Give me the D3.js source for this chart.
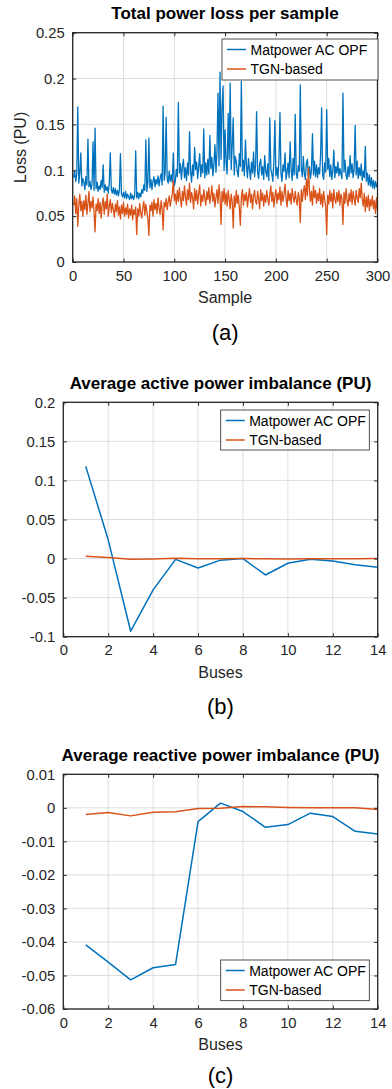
<!DOCTYPE html>
<html><head><meta charset="utf-8">
<script src="https://cdn.jsdelivr.net/npm/d3@7"></script>
<style>
html,body{margin:0;padding:0;background:#fff;}
svg{display:block;font-family:"Liberation Sans",Arial,Helvetica,sans-serif;}
</style></head>
<body>
<svg id="chart" width="392" height="1089"></svg>
<script>
// ---------- DATA ----------
const seriesNames = ["Matpower AC OPF", "TGN-based"];

// Panel (a): total power loss per sample (samples 1..300)
const lossMatpower = [
0.092,0.099,0.088,0.096,0.169,0.086,0.097,0.119,0.083,0.091,
0.087,0.079,0.093,0.084,0.134,0.082,0.088,0.079,0.085,0.131,
0.078,0.146,0.080,0.087,0.077,0.083,0.079,0.089,0.081,0.106,
0.076,0.084,0.078,0.082,0.075,0.086,0.119,0.079,0.075,0.081,
0.074,0.080,0.073,0.078,0.072,0.079,0.118,0.074,0.071,0.076,
0.070,0.077,0.069,0.074,0.071,0.068,0.075,0.069,0.073,0.068,
0.072,0.121,0.070,0.076,0.069,0.075,0.071,0.079,0.075,0.084,
0.078,0.133,0.077,0.087,0.135,0.081,0.090,0.079,0.088,0.093,
0.082,0.090,0.085,0.094,0.083,0.091,0.096,0.084,0.170,0.089,
0.097,0.158,0.090,0.086,0.099,0.088,0.095,0.087,0.119,0.083,
0.088,0.101,0.093,0.174,0.097,0.107,0.090,0.104,0.112,0.092,
0.103,0.089,0.108,0.095,0.142,0.099,0.087,0.106,0.094,0.125,
0.101,0.109,0.091,0.104,0.118,0.093,0.106,0.097,0.145,0.092,
0.108,0.095,0.112,0.096,0.138,0.102,0.114,0.094,0.107,0.128,
0.098,0.120,0.184,0.105,0.207,0.112,0.170,0.192,0.100,0.144,
0.108,0.096,0.162,0.112,0.195,0.101,0.127,0.157,0.095,0.115,
0.110,0.098,0.093,0.118,0.104,0.197,0.099,0.111,0.094,0.133,
0.106,0.092,0.113,0.101,0.090,0.109,0.097,0.120,0.093,0.105,
0.164,0.098,0.091,0.107,0.112,0.095,0.104,0.090,0.116,0.099,
0.093,0.107,0.089,0.157,0.101,0.096,0.088,0.110,0.154,0.094,
0.103,0.091,0.112,0.163,0.096,0.088,0.106,0.099,0.119,0.090,
0.098,0.108,0.092,0.131,0.101,0.089,0.113,0.095,0.161,0.097,
0.091,0.105,0.099,0.193,0.102,0.093,0.115,0.096,0.090,0.108,
0.112,0.094,0.104,0.091,0.100,0.140,0.095,0.110,0.093,0.106,
0.092,0.103,0.096,0.117,0.168,0.095,0.090,0.108,0.098,0.166,
0.101,0.113,0.093,0.106,0.090,0.099,0.122,0.092,0.104,0.097,
0.109,0.094,0.102,0.096,0.091,0.184,0.098,0.111,0.095,0.090,
0.104,0.093,0.116,0.097,0.107,0.092,0.101,0.149,0.095,0.110,
0.091,0.103,0.094,0.107,0.089,0.099,0.092,0.126,0.088,0.097,
0.084,0.095,0.083,0.092,0.081,0.089,0.080,0.088,0.082,0.086
];
const lossTGN = [
0.062,0.072,0.053,0.069,0.039,0.061,0.074,0.056,0.066,0.050,
0.067,0.057,0.073,0.052,0.064,0.077,0.055,0.066,0.059,0.071,
0.054,0.033,0.063,0.056,0.069,0.053,0.065,0.048,0.062,0.070,
0.052,0.066,0.058,0.074,0.050,0.061,0.068,0.054,0.064,0.057,
0.049,0.063,0.055,0.067,0.051,0.060,0.047,0.062,0.053,0.065,
0.050,0.059,0.052,0.063,0.048,0.058,0.051,0.062,0.046,0.057,
0.052,0.060,0.030,0.058,0.050,0.064,0.053,0.048,0.060,0.066,
0.051,0.063,0.055,0.047,0.029,0.062,0.056,0.065,0.050,0.068,
0.057,0.064,0.053,0.070,0.059,0.052,0.067,0.058,0.035,0.065,
0.060,0.069,0.057,0.066,0.072,0.061,0.068,0.074,0.089,0.067,
0.074,0.063,0.078,0.066,0.081,0.069,0.060,0.077,0.067,0.083,
0.071,0.062,0.079,0.068,0.086,0.065,0.076,0.070,0.058,0.080,
0.067,0.078,0.063,0.075,0.084,0.061,0.073,0.066,0.079,0.070,
0.062,0.077,0.068,0.081,0.064,0.072,0.083,0.066,0.075,0.060,
0.070,0.079,0.064,0.084,0.072,0.041,0.077,0.066,0.080,0.063,
0.075,0.061,0.078,0.069,0.058,0.074,0.066,0.037,0.072,0.060,
0.078,0.064,0.073,0.059,0.040,0.071,0.079,0.062,0.074,0.067,
0.076,0.060,0.071,0.080,0.065,0.074,0.058,0.072,0.078,0.066,
0.063,0.077,0.069,0.058,0.079,0.067,0.075,0.061,0.073,0.065,
0.078,0.069,0.062,0.074,0.083,0.066,0.076,0.060,0.072,0.079,
0.064,0.075,0.068,0.082,0.062,0.077,0.066,0.074,0.085,0.069,
0.060,0.078,0.067,0.075,0.063,0.080,0.071,0.065,0.077,0.068,
0.062,0.076,0.070,0.043,0.079,0.066,0.077,0.083,0.068,0.090,
0.072,0.103,0.079,0.066,0.077,0.062,0.083,0.070,0.078,0.064,
0.075,0.067,0.080,0.063,0.074,0.060,0.077,0.068,0.061,0.030,
0.073,0.063,0.078,0.066,0.075,0.059,0.079,0.068,0.064,0.076,
0.066,0.078,0.062,0.074,0.069,0.041,0.076,0.064,0.080,0.068,
0.061,0.075,0.066,0.079,0.063,0.077,0.069,0.062,0.078,0.070,
0.065,0.080,0.070,0.086,0.068,0.061,0.075,0.055,0.071,0.060,
0.073,0.056,0.068,0.061,0.072,0.058,0.067,0.053,0.070,0.057
];

// Panels (b), (c): buses 1..14
const buses = [1,2,3,4,5,6,7,8,9,10,11,12,13,14];
const activeMatpower = [0.118,0.024,-0.093,-0.040,-0.001,-0.012,-0.002,0.000,-0.021,-0.006,-0.001,-0.003,-0.008,-0.011];
const activeTGN      = [0.003,0.0015,-0.001,-0.0005,0.0005,-0.0003,-0.0002,0.0000,-0.0003,-0.0004,-0.0002,-0.0002,-0.0003,0.0000];
const reactiveMatpower = [-0.0409,-0.0460,-0.0513,-0.0477,-0.0467,-0.0041,0.0014,-0.0011,-0.0058,-0.0050,-0.0016,-0.0026,-0.0070,-0.0078];
const reactiveTGN      = [-0.0020,-0.0014,-0.0024,-0.0013,-0.0012,-0.0002,-0.0001,0.0004,0.0003,0.0001,0.0000,0.0000,0.0000,-0.0005];

// Tick values
const ticksA_x = [0,50,100,150,200,250,300];
const ticksA_y = [0,0.05,0.1,0.15,0.2,0.25];
const ticksBus = [0,2,4,6,8,10,12,14];
const ticksB_y = [-0.1,-0.05,0,0.05,0.1,0.15,0.2];
const ticksC_y = [-0.06,-0.05,-0.04,-0.03,-0.02,-0.01,0,0.01];

const titles = ["Total power loss per sample","Average active power imbalance (PU)","Average reactive power imbalance (PU)"];
const panelLabels = ["(a)","(b)","(c)"];

// ---------- DRAW ----------
const colors = ["#0072BD","#D95319"];
const svg = d3.select("#chart");
const fmt = v => { const s = d3.format("~g")(+v.toFixed(4)); return s.replace("−","-"); };

function panel(cfg){
  const g = svg.append("g");
  const x = d3.scaleLinear().domain(cfg.xd).range([cfg.x0,cfg.x1]);
  const y = d3.scaleLinear().domain(cfg.yd).range([cfg.y1,cfg.y0]);
  // grid
  g.append("g").selectAll("line.gx").data(cfg.xt).join("line")
    .attr("x1",d=>x(d)).attr("x2",d=>x(d)).attr("y1",cfg.y0).attr("y2",cfg.y1)
    .attr("stroke","#dedede").attr("stroke-width",1);
  g.append("g").selectAll("line.gy").data(cfg.yt).join("line")
    .attr("y1",d=>y(d)).attr("y2",d=>y(d)).attr("x1",cfg.x0).attr("x2",cfg.x1)
    .attr("stroke","#dedede").attr("stroke-width",1);
  // lines
  const clipId = "clip"+cfg.id;
  svg.append("clipPath").attr("id",clipId).append("rect")
    .attr("x",cfg.x0).attr("y",cfg.y0).attr("width",cfg.x1-cfg.x0).attr("height",cfg.y1-cfg.y0);
  cfg.series.forEach((s,i)=>{
    const line = d3.line().x((d,j)=>x(cfg.xs[j])).y(d=>y(d));
    g.append("path").datum(s).attr("d",line).attr("fill","none")
      .attr("stroke",colors[i]).attr("stroke-width",cfg.lw).attr("stroke-linejoin","round")
      .attr("clip-path","url(#"+clipId+")");
  });
  // axes with inward ticks on all sides
  const tl = 3.5;
  const axB = d3.axisBottom(x).tickValues(cfg.xt).tickSize(-tl).tickPadding(8).tickFormat(fmt);
  const axT = d3.axisTop(x).tickValues(cfg.xt).tickSize(-tl).tickFormat("");
  const axL = d3.axisLeft(y).tickValues(cfg.yt).tickSize(-tl).tickPadding(8).tickFormat(fmt);
  const axR = d3.axisRight(y).tickValues(cfg.yt).tickSize(-tl).tickFormat("");
  const st = sel => { sel.selectAll("path").attr("stroke","#262626").attr("stroke-width",1.2);
    sel.selectAll("line").attr("stroke","#262626");
    sel.selectAll("text").attr("fill","#262626").style("font-size","14.8px")
      .style("font-family","'Liberation Sans',Arial,sans-serif"); };
  g.append("g").attr("transform",`translate(0,${cfg.y1})`).call(axB).call(st);
  g.append("g").attr("transform",`translate(0,${cfg.y0})`).call(axT).call(st);
  g.append("g").attr("transform",`translate(${cfg.x0},0)`).call(axL).call(st);
  g.append("g").attr("transform",`translate(${cfg.x1},0)`).call(axR).call(st);
  g.selectAll(".domain").attr("d", null);
  g.append("rect").attr("x",cfg.x0).attr("y",cfg.y0).attr("width",cfg.x1-cfg.x0).attr("height",cfg.y1-cfg.y0)
    .attr("fill","none").attr("stroke","#262626").attr("stroke-width",1.3);
  // title
  g.append("text").attr("x",cfg.tx).attr("y",cfg.ty).attr("text-anchor","middle")
    .attr("dominant-baseline","central").style("font-weight","bold").style("font-size","17px")
    .attr("fill","#000").text(cfg.title);
  // x label
  g.append("text").attr("x",(cfg.x0+cfg.x1)/2).attr("y",cfg.xly).attr("text-anchor","middle")
    .attr("dominant-baseline","central").style("font-size","16px").attr("fill","#262626").text(cfg.xlabel);
  if(cfg.ylabel){
    g.append("text").attr("transform",`translate(${cfg.ylx},${(cfg.y0+cfg.y1)/2}) rotate(-90)`)
      .attr("text-anchor","middle").attr("dominant-baseline","central")
      .style("font-size","16px").attr("fill","#262626").text(cfg.ylabel);
  }
  // panel label
  g.append("text").attr("x",(cfg.x0+cfg.x1)/2).attr("y",cfg.ply).attr("text-anchor","middle")
    .attr("dominant-baseline","central").style("font-size","22px").attr("fill","#000").text(cfg.plabel);
  // legend
  const L = cfg.leg;
  const lg = g.append("g");
  lg.append("rect").attr("x",L.x).attr("y",L.y).attr("width",L.w).attr("height",L.h)
    .attr("fill","#fff").attr("stroke","#262626").attr("stroke-width",0.8);
  seriesNames.forEach((n,i)=>{
    const yy = L.y + 10.5 + i*19.5;
    lg.append("line").attr("x1",L.x+5).attr("x2",L.x+24).attr("y1",yy).attr("y2",yy)
      .attr("stroke",colors[i]).attr("stroke-width",1.5);
    lg.append("text").attr("x",L.x+28.5).attr("y",yy).attr("dominant-baseline","central")
      .style("font-size","14px").attr("fill","#000").text(n);
  });
}

panel({id:"a", xd:[0,300], yd:[0,0.25], x0:72.7, x1:377.5, y0:32.7, y1:262,
  xt:ticksA_x, yt:ticksA_y, xs:d3.range(1,301), series:[lossMatpower,lossTGN], lw:1.3,
  title:titles[0], tx:225, ty:13, xlabel:"Sample", xly:297, ylabel:"Loss (PU)", ylx:20,
  plabel:panelLabels[0], ply:332, leg:{x:222,y:39,w:156,h:41}});
panel({id:"b", xd:[0,14], yd:[-0.1,0.2], x0:63.3, x1:377.7, y0:402.3, y1:636.7,
  xt:ticksBus, yt:ticksB_y, xs:buses, series:[activeMatpower,activeTGN], lw:1.5,
  title:titles[1], tx:220.5, ty:383.3, xlabel:"Buses", xly:672.7,
  plabel:panelLabels[1], ply:706.7, leg:{x:220.7,y:410,w:148.6,h:40}});
panel({id:"c", xd:[0,14], yd:[-0.06,0.01], x0:63.3, x1:377.7, y0:774.3, y1:1009,
  xt:ticksBus, yt:ticksC_y, xs:buses, series:[reactiveMatpower,reactiveTGN], lw:1.5,
  title:titles[2], tx:220.5, ty:755.7, xlabel:"Buses", xly:1044,
  plabel:panelLabels[2], ply:1075, leg:{x:220.7,y:960,w:148.6,h:40.7}});
</script>
</body></html>
